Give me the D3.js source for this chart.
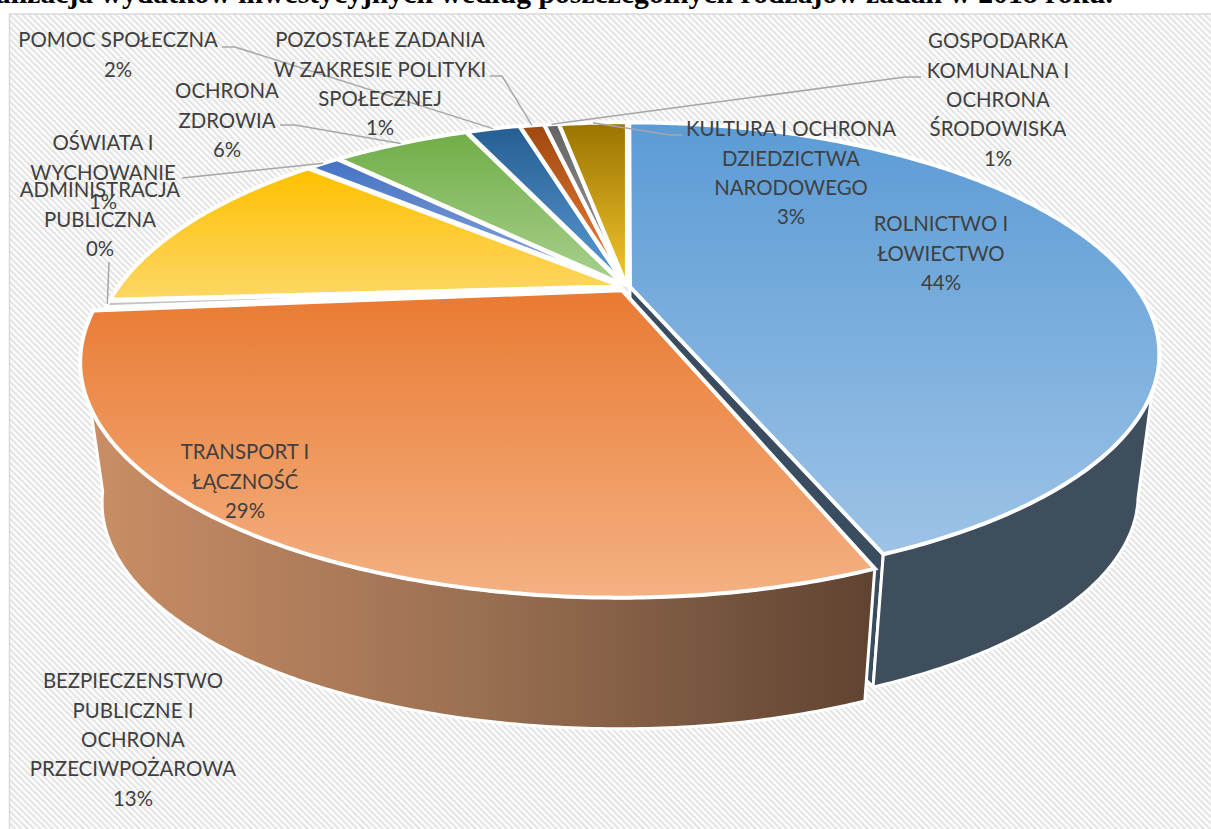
<!DOCTYPE html>
<html>
<head>
<meta charset="utf-8">
<script src="https://cdn.jsdelivr.net/npm/d3@7"></script>
<style>
html, body { margin: 0; padding: 0; background: #fff; overflow: hidden; }
</style>
</head>
<body>
<svg id="chart"></svg>
<script>
const width = 1211;
const height = 829;

const titleText = "Realizacja wydatków inwestycyjnych według poszczególnych rodzajów zadań w 2018 roku.";

// clockwise from 12 o'clock
const categories = ["ROLNICTWO I ŁOWIECTWO", "TRANSPORT I ŁĄCZNOŚĆ", "ADMINISTRACJA PUBLICZNA",
    "BEZPIECZENSTWO PUBLICZNE I OCHRONA PRZECIWPOŻAROWA", "OŚWIATA I WYCHOWANIE", "OCHRONA ZDROWIA", "POMOC SPOŁECZNA",
    "POZOSTAŁE ZADANIA W ZAKRESIE POLITYKI SPOŁECZNEJ", "GOSPODARKA KOMUNALNA I OCHRONA ŚRODOWISKA",
    "KULTURA I OCHRONA DZIEDZICTWA NARODOWEGO"];
const values = [44.1, 29.45, 0.45, 12.5, 1.3, 5.6, 2.2, 1.0, 0.6, 2.8];
const percentLabels = ["44%", "29%", "0%", "13%", "1%", "6%", "2%", "1%", "1%", "3%"];

const topColors = ["#5b9bd5", "#e97a32", "#a5a5a5", "#ffc000", "#4472c4", "#70ad47", "#255e91", "#9e480e", "#636363", "#997300"];
const bottomColors = ["#9dc3e6", "#f4b183", "#c9c9c9", "#fdd766", "#8faadc", "#a9d18e", "#5b9bd5", "#f4813f", "#a5a5a5", "#f5c72e"];

// label wrapping and layout, same order as categories
const labelLines = [
    ["ROLNICTWO I", "ŁOWIECTWO"],
    ["TRANSPORT I", "ŁĄCZNOŚĆ"],
    ["ADMINISTRACJA", "PUBLICZNA"],
    ["BEZPIECZENSTWO", "PUBLICZNE I", "OCHRONA", "PRZECIWPOŻAROWA"],
    ["OŚWIATA I", "WYCHOWANIE"],
    ["OCHRONA", "ZDROWIA"],
    ["POMOC SPOŁECZNA"],
    ["POZOSTAŁE ZADANIA", "W ZAKRESIE POLITYKI", "SPOŁECZNEJ"],
    ["GOSPODARKA", "KOMUNALNA I", "OCHRONA", "ŚRODOWISKA"],
    ["KULTURA I OCHRONA", "DZIEDZICTWA", "NARODOWEGO"]
];
const labelX = [941, 245, 100, 133, 103, 227, 118, 380, 998, 791];
const labelY = [224, 452, 190, 681, 143, 91, 40, 40, 41, 129];

// leader lines: start + elbow, the last point comes from the slice
const leaderStart = [null, null, [109, 262], null, [182, 178], [280, 125], [222, 47], [490, 76], [921, 77], [682, 135]];
const leaderElbow = [null, null, null, null, null, [295, 125], [235, 47], [502, 76], [905, 77], [670, 135]];

// perspective of the pie disc
const cx = 627, cy = 287;
const A = 214, B = 503, k = 0.301;
const explode = [0.006, 0.018, 0.012, 0.012, 0.012, 0.012, 0.012, 0.008, 0.005, 0.002];
const depthScale = 0.96, vanishY = 3875;
const rad = Math.PI / 180;
// where the side walls leave the disc (top) and the lower rim
const wallFrom = 116 * rad, wallTo = 242 * rad;
const wallFromLow = 108 * rad, wallToLow = 255 * rad;
// the slices do not sit on one exact ellipse in the picture
const stretchRight = [1.006, 1, 1, 1, 1, 1, 1, 1, 1, 1];
const stretchLeft = [1, 1.022, 1, 1, 1, 1, 1, 1, 1, 1];
const stretchFront = [0.975, 0.995, 1, 1, 1, 1, 1, 1, 1, 1];

function project(u, v) {
    const d = 1 + k * v;
    return [cx + B * u / d, cy - A * v / d];
}
function lower(p) {
    return [cx + depthScale * (p[0] - cx), vanishY + depthScale * (p[1] - vanishY)];
}

const pie = d3.pie().sort(null).startAngle(0).endAngle(2 * Math.PI);
const slices = pie(values);

function offset(s) {
    const mid = (s.startAngle + s.endAngle) / 2;
    const e = explode[s.index];
    return [e * Math.sin(mid), e * Math.cos(mid)];
}
function rimPoint(s, a) {
    const o = offset(s);
    let u = Math.sin(a), v = Math.cos(a);
    u *= u < 0 ? stretchLeft[s.index] : stretchRight[s.index];
    if (v < 0) v *= stretchFront[s.index];
    return project(u + o[0], v + o[1]);
}
function arcPoints(s, a0, a1) {
    const n = Math.max(2, Math.ceil((a1 - a0) / 0.01));
    return d3.range(n + 1).map(i => rimPoint(s, a0 + (a1 - a0) * i / n));
}

const line = d3.line();

const svg = d3.select("#chart")
    .attr("width", width)
    .attr("height", height)
    .style("display", "block");

const defs = svg.append("defs");

defs.append("pattern")
    .attr("id", "hatch")
    .attr("patternUnits", "userSpaceOnUse")
    .attr("width", 4.4).attr("height", 4.4)
    .attr("patternTransform", "rotate(-45)")
    .call(p => {
        p.append("rect").attr("width", 4.4).attr("height", 4.4).attr("fill", "#ffffff");
        p.append("rect").attr("width", 2.2).attr("height", 4.4).attr("fill", "#e4e4e4");
    });

slices.forEach((s, i) => {
    const g = defs.append("linearGradient").attr("id", `top${i}`)
        .attr("x1", 0).attr("y1", 0).attr("x2", 0).attr("y2", 1);
    g.append("stop").attr("offset", 0).attr("stop-color", topColors[i]);
    g.append("stop").attr("offset", 1).attr("stop-color", bottomColors[i]);
});

const wallGradient = defs.append("linearGradient").attr("id", "wallOrange")
    .attr("x1", 0).attr("y1", 0).attr("x2", 1).attr("y2", 0);
wallGradient.append("stop").attr("offset", 0).attr("stop-color", "#c98e65");
wallGradient.append("stop").attr("offset", 0.5).attr("stop-color", "#9a6f52");
wallGradient.append("stop").attr("offset", 1).attr("stop-color", "#5f4331");

// title, cut by the top of the image
svg.append("text")
    .attr("x", 1113).attr("y", 3)
    .attr("text-anchor", "end")
    .attr("font-family", "'Liberation Serif'")
    .attr("font-weight", "bold")
    .attr("font-size", 29.7)
    .attr("fill", "#000")
    .text(titleText);

// chart area
svg.append("rect")
    .attr("x", 9.5).attr("y", 14)
    .attr("width", width + 10).attr("height", height)
    .attr("fill", "url(#hatch)")
    .attr("stroke", "#d9d9d9")
    .attr("stroke-width", 1.5);

const pieG = svg.append("g");

// cut face of the big blue slice, seen through the gap
const blue = slices[0], orange = slices[1];
const blueApex = project(offset(blue)[0], offset(blue)[1]);
const blueCorner = rimPoint(blue, blue.endAngle);
pieG.append("path")
    .attr("d", line([blueApex, blueCorner, lower(blueCorner), lower(blueApex)]) + "Z")
    .attr("fill", "#3a4d60")
    .attr("stroke", "#fff").attr("stroke-width", 3).attr("stroke-linejoin", "round");

// outer walls
function wall(s, a0, a1, low0, low1, fill) {
    const up = arcPoints(s, a0, a1);
    const down = arcPoints(s, low0, low1).map(lower).reverse();
    pieG.append("path")
        .attr("d", line(up.concat(down)) + "Z")
        .attr("fill", fill)
        .attr("stroke", "#fff").attr("stroke-width", 3).attr("stroke-linejoin", "round");
}
wall(blue, wallFrom, blue.endAngle, wallFromLow, blue.endAngle, "#3f4e5d");
wall(orange, orange.startAngle, wallTo, orange.startAngle, wallToLow, "url(#wallOrange)");

// top faces
slices.forEach((s, i) => {
    const o = offset(s);
    const apex = project(o[0], o[1]);
    pieG.append("path")
        .attr("d", line([apex].concat(arcPoints(s, s.startAngle, s.endAngle))) + "Z")
        .attr("fill", `url(#top${i})`)
        .attr("stroke", "#fff").attr("stroke-width", 4).attr("stroke-linejoin", "miter");
});

// leader lines
slices.forEach((s, i) => {
    if (!leaderStart[i]) return;
    const mid = (s.startAngle + s.endAngle) / 2;
    const pts = [leaderStart[i]];
    if (leaderElbow[i]) pts.push(leaderElbow[i]);
    pts.push(rimPoint(s, mid));
    svg.append("path")
        .attr("d", line(pts))
        .attr("fill", "none")
        .attr("stroke", "#a6a6a6")
        .attr("stroke-width", 1.5);
});

// labels
const lineStep = 29.4;
categories.forEach((c, i) => {
    const t = svg.append("text")
        .attr("text-anchor", "middle")
        .attr("font-family", "Lato")
        .attr("font-size", 20.4)
        .attr("fill", "#404040");
    labelLines[i].concat([percentLabels[i]]).forEach((l, j) => {
        t.append("tspan")
            .attr("x", labelX[i])
            .attr("y", labelY[i] + j * lineStep)
            .attr("dy", "0.35em")
            .text(l);
    });
});
</script>
</body>
</html>
